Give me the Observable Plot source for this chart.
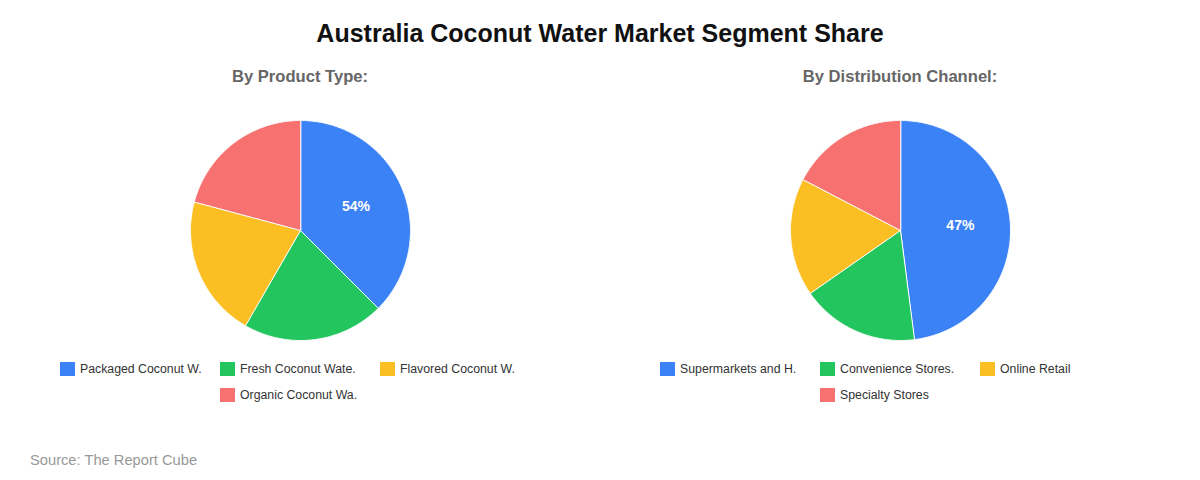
<!DOCTYPE html>
<html>
<head>
<meta charset="utf-8">
<script src="https://cdn.jsdelivr.net/npm/d3@7"></script>
<script src="https://cdn.jsdelivr.net/npm/@observablehq/plot@0.6"></script>
<style>
  html, body { margin: 0; padding: 0; background: #fff; }
  body { font-family: "Liberation Sans", Arial, sans-serif; }
  #wrap { position: relative; width: 1200px; height: 480px; overflow: hidden; }
  #chart { position: absolute; left: 0; top: 0; }
  .title { position: absolute; left: 0; width: 1200px; top: 18px; text-align: center; font-size: 25px; font-weight: bold; color: #111; line-height: 30px; }
  .sub { position: absolute; width: 600px; top: 66px; text-align: center; font-size: 16.6px; font-weight: bold; color: #666; line-height: 21px; }
  .legend { position: absolute; width: 480px; top: 362px; display: flex; flex-wrap: wrap; justify-content: center; row-gap: 12px; }
  .item { width: 160px; display: flex; align-items: center; font-size: 12.3px; color: #333; height: 14px; line-height: 14px; }
  .sw { width: 15px; height: 14px; margin-right: 5px; flex: none; }
  .source { position: absolute; left: 30px; top: 451px; font-size: 14.7px; color: #999; line-height: 18px; }
</style>
</head>
<body>
<div id="wrap">
  <div id="chart"></div>
  <div class="title">Australia Coconut Water Market Segment Share</div>
  <div class="sub" style="left:0px">By Product Type:</div>
  <div class="sub" style="left:600px">By Distribution Channel:</div>
  <div class="legend" id="leg0" style="left:60px"></div>
  <div class="legend" id="leg1" style="left:660px"></div>
  <div class="source">Source: The Report Cube</div>
</div>
<script>
// ---- Data ----
const productTypes = ["Packaged Coconut W.", "Fresh Coconut Wate.", "Flavored Coconut W.", "Organic Coconut Wa."];
const productValues = [54, 30, 30, 30];
const channels = ["Supermarkets and H.", "Convenience Stores.", "Online Retail", "Specialty Stores"];
const channelValues = [47, 17, 17, 17];
const colors = ["#3b82f6", "#22c55e", "#fbbf24", "#f87171"];

// ---- Layout constants ----
const W = 1200, H = 480, R = 110, LABEL_R = 60;
const pies = [
  {names: productTypes, values: productValues, cx: 300, cy: 230, legend: "leg0"},
  {names: channels, values: channelValues, cx: 900, cy: 230, legend: "leg1"}
];

const polys = [];
const labels = [];
pies.forEach((p, pi) => {
  const arcs = d3.pie().sort(null).value(d => d)(p.values);
  const maxV = d3.max(p.values);
  arcs.forEach((a, i) => {
    const key = pi + "-" + i;
    polys.push({key, cat: i, x: p.cx, y: p.cy});
    const steps = Math.max(2, Math.ceil((a.endAngle - a.startAngle) / (Math.PI / 360)));
    for (let s = 0; s <= steps; s++) {
      const t = a.startAngle + (a.endAngle - a.startAngle) * s / steps;
      polys.push({key, cat: i, x: p.cx + R * Math.sin(t), y: p.cy - R * Math.cos(t)});
    }
    if (p.values[i] === maxV) {
      const m = (a.startAngle + a.endAngle) / 2;
      labels.push({x: p.cx + LABEL_R * Math.sin(m), y: p.cy - LABEL_R * Math.cos(m), text: p.values[i] + "%"});
    }
  });
  const leg = document.getElementById(p.legend);
  p.names.forEach((n, i) => {
    const it = document.createElement("div");
    it.className = "item";
    it.innerHTML = `<span class="sw" style="background:${colors[i]}"></span><span>${n}</span>`;
    leg.appendChild(it);
  });
});

const chart = Plot.plot({
  width: W, height: H,
  margin: 0,
  x: {domain: [0, W], axis: null},
  y: {domain: [0, H], reverse: true, axis: null},
  color: {domain: [0, 1, 2, 3], range: colors},
  style: {background: "transparent", fontFamily: "Liberation Sans, Arial, sans-serif"},
  marks: [
    Plot.line(polys, {x: "x", y: "y", z: "key", fill: "cat", stroke: "#fff", strokeWidth: 1, curve: "linear-closed"}),
    Plot.text(labels, {x: "x", y: "y", dy: -1, text: "text", fill: "#fff", fontSize: 14, fontWeight: "bold"})
  ]
});
document.getElementById("chart").appendChild(chart);
</script>
</body>
</html>
